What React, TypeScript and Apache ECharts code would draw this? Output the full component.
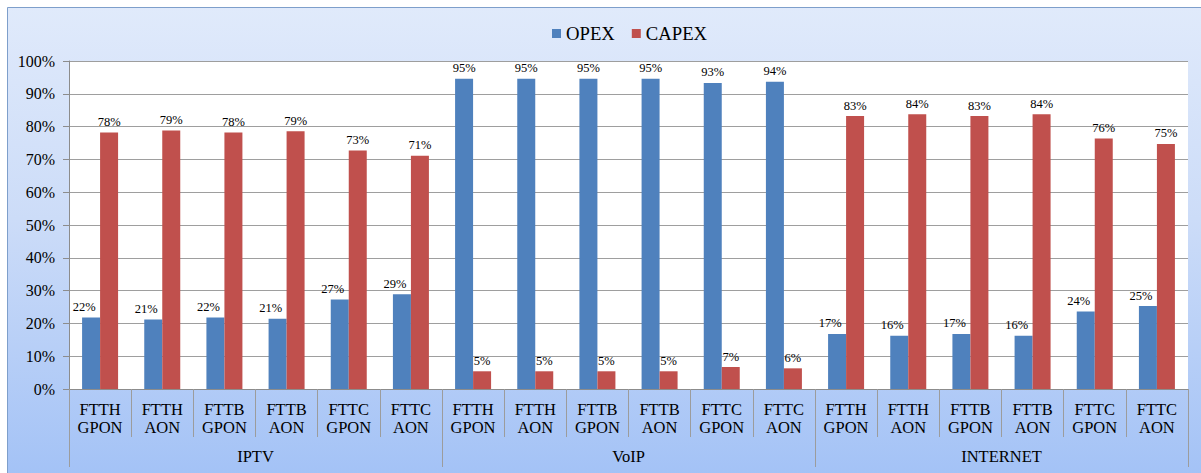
import React, { useEffect, useRef } from "react";
import * as echarts from "echarts";

const categories = [
  "FTTH\nGPON", "FTTH\nAON", "FTTB\nGPON", "FTTB\nAON", "FTTC\nGPON", "FTTC\nAON",
  "FTTH\nGPON", "FTTH\nAON", "FTTB\nGPON", "FTTB\nAON", "FTTC\nGPON", "FTTC\nAON",
  "FTTH\nGPON", "FTTH\nAON", "FTTB\nGPON", "FTTB\nAON", "FTTC\nGPON", "FTTC\nAON",
];
const groups = ["IPTV", "VoIP", "INTERNET"];
const opex = [21.8, 21.2, 21.8, 21.4, 27.3, 28.9, 94.6, 94.6, 94.6, 94.6, 93.3, 93.7, 16.8, 16.2, 16.8, 16.2, 23.6, 25.3];
const capex = [78.2, 78.8, 78.2, 78.6, 72.7, 71.1, 5.4, 5.4, 5.4, 5.4, 6.7, 6.3, 83.2, 83.8, 83.2, 83.8, 76.4, 74.7];
const yTicks = { min: 0, max: 100, interval: 10 };

const FONT = "'Liberation Serif', 'Times New Roman', serif";

export default function App() {
  const ref = useRef<HTMLDivElement>(null);
  useEffect(() => {
    document.body.style.margin = "0";
    const chart = echarts.init(ref.current!, null, { renderer: "svg" });
    const lbl = (v: number) => Math.round(v) + "%";
    chart.setOption({
      animation: false,
      backgroundColor: "#ffffff",
      graphic: [
        {
          type: "rect",
          z: -10,
          silent: true,
          shape: { x: 7.5, y: 7.5, width: 1200, height: 470 },
          style: {
            fill: new echarts.graphic.LinearGradient(0, 0, 0, 1, [
              { offset: 0, color: "#E0EAFB" },
              { offset: 0.45, color: "#CCDCF8" },
              { offset: 1, color: "#A3C2F6" },
            ]),
            stroke: "#7E9FCB",
            lineWidth: 1,
          },
        },
      ],
      legend: {
        top: 19,
        left: 547,
        itemWidth: 9,
        itemHeight: 9,
        itemGap: 17,
        icon: "rect",
        textStyle: { fontFamily: FONT, fontSize: 18.7, color: "#000" },
        data: ["OPEX", "CAPEX"],
      },
      grid: {
        left: 69,
        top: 61,
        right: 13,
        bottom: 84,
        show: true,
        backgroundColor: "#ffffff",
        borderWidth: 0,
      },
      xAxis: [
        {
          type: "category",
          data: categories,
          axisLine: { show: true, lineStyle: { color: "#8C8C8C", width: 1 } },
          axisTick: { show: true, interval: 0, length: 48, lineStyle: { color: "#9C9C9C" } },
          axisLabel: {
            interval: 0,
            margin: 11,
            fontFamily: FONT,
            fontSize: 16.5,
            lineHeight: 18,
            color: "#000",
          },
        },
        {
          type: "category",
          position: "bottom",
          data: groups,
          axisLine: { show: false },
          axisTick: { show: true, interval: 0, length: 78, lineStyle: { color: "#9C9C9C" } },
          axisLabel: {
            interval: 0,
            margin: 59,
            fontFamily: FONT,
            fontSize: 16.5,
            color: "#000",
          },
        },
      ],
      yAxis: {
        type: "value",
        min: yTicks.min,
        max: yTicks.max,
        interval: yTicks.interval,
        axisLine: { show: true, lineStyle: { color: "#8C8C8C" } },
        axisTick: { show: true, length: 6, lineStyle: { color: "#8C8C8C" } },
        axisLabel: {
          formatter: "{value}%",
          margin: 14,
          fontFamily: FONT,
          fontSize: 16,
          color: "#000",
        },
        splitLine: { show: true, lineStyle: { color: "#9E9E9E", width: 1 } },
      },
      series: [
        {
          name: "OPEX",
          type: "bar",
          xAxisIndex: 0,
          barWidth: 18,
          barGap: "0%",
          itemStyle: { color: "#4F81BD" },
          data: opex.map((v) => ({
            value: v,
            label: v < 50 ? { offset: [-7, 0] } : undefined,
          })),
          label: {
            show: true,
            position: "top",
            distance: 4,
            fontFamily: FONT,
            fontSize: 12.5,
            color: "#000",
            formatter: (p: any) => lbl(p.value),
          },
        },
        {
          name: "CAPEX",
          type: "bar",
          xAxisIndex: 0,
          barWidth: 18,
          barGap: "0%",
          itemStyle: { color: "#C0504D" },
          data: capex,
          label: {
            show: true,
            position: "top",
            distance: 4,
            fontFamily: FONT,
            fontSize: 12.5,
            color: "#000",
            formatter: (p: any) => lbl(p.value),
          },
        },
      ],
    });
    return () => chart.dispose();
  }, []);
  return <div ref={ref} style={{ width: 1201, height: 473 }} />;
}
